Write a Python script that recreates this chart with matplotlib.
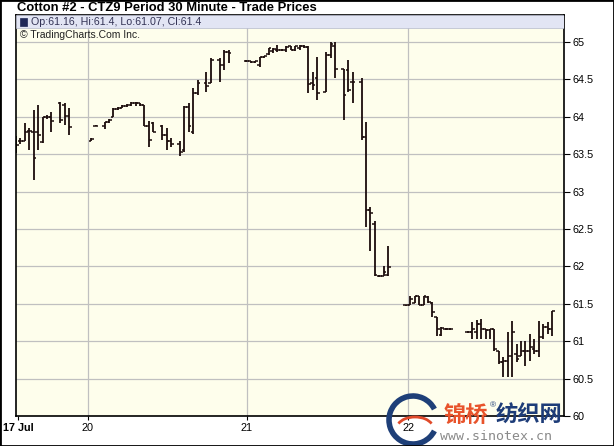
import matplotlib
matplotlib.use('Agg')
import matplotlib.pyplot as plt
from matplotlib.patches import Rectangle, Arc
import numpy as np

W, H = 614, 446

# bar slots are 30 minute periods counted from the first bar of 17 Jul
slots = [0, 1, 2, 3, 4, 5, 6, 7, 8, 10, 11, 12,
         17, 18, 20, 21, 22, 23, 24, 25, 26, 27, 28, 29, 30, 31, 33, 34, 35, 37, 38, 39, 40, 41, 43, 44, 46, 47, 48,
         52, 53, 54, 55, 56, 57, 58, 59, 60, 61, 62, 63, 64, 65, 66, 67, 68, 70, 71, 72, 74, 75, 76, 78, 79, 80, 81, 82, 83, 84,
         88, 89, 90, 91, 92, 93, 94, 95, 96, 97, 98, 102, 103, 104, 105, 106, 107, 108, 109, 110, 111, 112, 113, 114, 115,
         116, 117, 118, 119, 120, 121]

opens = [63.60, 63.67, 63.68, 63.81, 63.80, 63.79, 63.66, 63.99, 64.00, 64.19, 64.16, 64.01,
         63.68, 63.88, 63.88, 63.93, 64.00, 64.11, 64.12, 64.15, 64.16, 64.18, 64.18, 64.16, 63.87, 63.92, 63.87, 63.76,
         63.67, 63.63, 63.56, 64.13, 63.79, 64.32, 64.45, 64.45, 64.76, 64.69, 64.87,
         64.75, 64.74, 64.73, 64.69, 64.80, 64.84, 64.88, 64.89, 64.89, 64.89, 64.95, 64.89, 64.92, 64.95, 64.93, 64.45,
         64.52, 64.33, 64.83, 64.95, 64.64, 64.63, 64.47, 64.47, 63.73, 62.76, 62.56, 61.87, 61.87, 61.89,
         61.48, 61.48, 61.51, 61.60, 61.48, 61.59, 61.51, 61.32, 61.08, 61.16, 61.16, 61.12, 61.12, 61.12, 61.23, 61.16,
         61.15, 61.16, 60.87, 60.72, 60.73, 60.80, 60.83, 60.80, 60.87, 60.87, 60.89, 60.87, 61.05, 61.19, 61.16]

highs = [63.74, 63.71, 63.91, 63.85, 64.09, 64.16, 64.00, 64.02, 64.07, 64.20, 64.18, 64.12,
         63.71, 63.89, 63.93, 63.97, 64.12, 64.13, 64.16, 64.17, 64.20, 64.20, 64.19, 64.16, 63.94, 63.93, 63.89, 63.85,
         63.72, 63.67, 64.14, 64.19, 64.39, 64.49, 64.60, 64.79, 64.79, 64.89, 64.89,
         64.76, 64.75, 64.75, 64.80, 64.81, 64.92, 64.92, 64.96, 64.91, 64.94, 64.95, 64.95, 64.96, 64.96, 64.95, 64.60,
         64.80, 64.87, 65.00, 65.00, 64.64, 64.76, 64.60, 64.52, 63.93, 62.79, 62.60, 61.88, 62.00, 62.27,
         61.49, 61.60, 61.61, 61.61, 61.61, 61.61, 61.52, 61.32, 61.19, 61.17, 61.17, 61.13, 61.25, 61.28, 61.29, 61.16,
         61.16, 61.16, 60.87, 60.79, 61.12, 61.27, 60.96, 61.00, 61.00, 61.09, 61.03, 61.27, 61.23, 61.25, 61.40]

lows = [63.52, 63.64, 63.67, 63.56, 63.16, 63.56, 63.65, 63.97, 63.79, 63.91, 63.89, 63.76,
        63.68, 63.87, 63.83, 63.92, 64.00, 64.09, 64.12, 64.13, 64.15, 64.15, 64.15, 63.87, 63.60, 63.79, 63.69, 63.56,
        63.60, 63.47, 63.53, 63.80, 63.77, 64.29, 64.33, 64.45, 64.47, 64.63, 64.72,
        64.73, 64.72, 64.72, 64.67, 64.79, 64.82, 64.85, 64.87, 64.88, 64.87, 64.89, 64.88, 64.89, 64.92, 64.32, 64.36,
        64.23, 64.33, 64.79, 64.52, 63.96, 64.33, 64.19, 63.69, 62.52, 62.20, 61.87, 61.86, 61.87, 61.87,
        61.47, 61.48, 61.51, 61.48, 61.48, 61.51, 61.32, 61.07, 61.07, 61.15, 61.15, 61.11, 61.03, 61.03, 61.03, 61.03,
        61.03, 60.87, 60.69, 60.52, 60.52, 60.52, 60.72, 60.80, 60.67, 60.73, 60.83, 60.79, 61.03, 61.09, 61.07]

closes = [63.62, 63.68, 63.79, 63.81, 63.45, 63.75, 64.00, 63.99, 63.94, 63.95, 64.01, 63.86,
          63.70, 63.88, 63.93, 63.96, 64.11, 64.12, 64.15, 64.16, 64.18, 64.18, 64.16, 63.87, 63.69, 63.80, 63.76, 63.67,
          63.63, 63.53, 64.13, 63.87, 64.32, 64.45, 64.41, 64.76, 64.69, 64.87, 64.85,
          64.75, 64.73, 64.74, 64.80, 64.81, 64.92, 64.91, 64.89, 64.89, 64.93, 64.89, 64.95, 64.95, 64.93, 64.44, 64.43,
          64.32, 64.83, 64.97, 64.64, 64.29, 64.36, 64.47, 63.73, 62.76, 62.72, 61.89, 61.87, 61.93, 61.99,
          61.48, 61.56, 61.60, 61.48, 61.61, 61.52, 61.39, 61.16, 61.17, 61.16, 61.16, 61.12, 61.16, 61.23, 61.16, 61.15,
          61.16, 60.89, 60.72, 60.73, 60.80, 61.12, 60.76, 60.87, 60.87, 60.92, 60.87, 61.05, 61.19, 61.16, 61.40]

day_ticks = [0.45, 16.25, 52.1, 88.5]
day_labels = ['17 Jul', '20', '21', '22']
y_ticks = [60, 60.5, 61, 61.5, 62, 62.5, 63, 63.5, 64, 64.5, 65]
y_labels = ['60', '60.5', '61', '61.5', '62', '62.5', '63', '63.5', '64', '64.5', '65']

title = 'Cotton #2 - CTZ9 Period 30 Minute - Trade Prices'
last_bar = 'Op:61.16, Hi:61.4, Lo:61.07, Cl:61.4'
credit = '\u00a9 TradingCharts.Com Inc.'

plt.rcParams['font.family'] = ['Liberation Sans', 'DejaVu Sans']

fig = plt.figure(figsize=(W / 100, H / 100), dpi=100)
fig.patch.set_facecolor('white')
ax = fig.add_axes([16 / W, 30 / H, 548 / W, 401 / H])
ax.set_facecolor('#fefeec')
ax.set_xlim(0, 123.7)
ax.set_ylim(60, 65.36)

# grid
ax.set_yticks(y_ticks)
ax.set_yticklabels(y_labels)
ax.yaxis.grid(True, color='#c0c0c0', lw=0.9, zorder=0)
ax.set_axisbelow(True)
for d in day_ticks[1:]:
    ax.axvline(d, color='#c0c0c0', lw=0.9, zorder=0)

# OHLC bars
x = np.array(slots, dtype=float)
tw = 0.6
bar_col = '#1c0c0c'
ax.vlines(x, lows, highs, color=bar_col, lw=1.3, zorder=2)
ax.hlines(opens, x - tw, x, color=bar_col, lw=1.1, zorder=2)
ax.hlines(closes, x, x + tw, color=bar_col, lw=1.1, zorder=2)

# axes look
ax.yaxis.tick_right()
ax.tick_params(axis='y', length=4, width=0.8, pad=2, labelsize=7.8, colors='black')
ax.set_xticks(day_ticks)
ax.set_xticklabels(day_labels)
ax.tick_params(axis='x', length=3, width=0.8, pad=2, labelsize=7.8)
ax.get_xticklabels()[0].set_fontweight('bold')
for s in ax.spines.values():
    s.set_color('black')
    s.set_linewidth(1.2)

# legend band inside the plot
ax.add_patch(Rectangle((0, 1 - 13 / 401), 1, 13 / 401, transform=ax.transAxes,
                       facecolor='#e2e5f4', edgecolor='#b5b9cc', lw=0.5, zorder=4))
ax.add_patch(Rectangle((4 / 548, 1 - 10.5 / 401), 7 / 548, 7 / 401, transform=ax.transAxes,
                       facecolor='#1f2858', edgecolor='#1f2858', lw=0.5, zorder=5))
ax.text(15 / 548, 1 - 7 / 401, last_bar, transform=ax.transAxes, va='center', ha='left',
        fontsize=7.7, color='#333355', zorder=5)
ax.text(4 / 548, 1 - 20 / 401, credit, transform=ax.transAxes, va='center', ha='left',
        fontsize=7.5, color='#222222', zorder=5)

fig.text(17 / W, 1 - 8 / H, title, fontsize=9.4, fontweight='bold', va='center', ha='left')

# watermark
fig.add_artist(Arc((413 / W, 1 - 420 / H), 48 / W, 48 / H, theta1=35, theta2=325,
                   color='#1e3f78', lw=4.0, transform=fig.transFigure))
fig.add_artist(Arc((415 / W, 1 - 428 / H), 36 / W, 22 / H, theta1=20, theta2=160,
                   color='#e04a2a', lw=2.0, transform=fig.transFigure))
cjk = ['Noto Sans CJK SC', 'DejaVu Sans']
fig.text(444 / W, 1 - 415 / H, '锦桥', family=cjk, fontsize=16, fontweight='bold',
         color='#e8532b', va='center', ha='left')
fig.text(490 / W, 1 - 406 / H, '\u00ae', fontsize=6, color='#1d3c78', va='center', ha='left')
fig.text(496 / W, 1 - 415 / H, '纺织网', family=cjk, fontsize=16, fontweight='bold',
         color='#1d3c78', va='center', ha='left')
fig.text(440 / W, 1 - 436 / H, 'www.sinotex.cn', family='DejaVu Sans Mono', fontsize=9.5,
         color='#8a8a8a', va='center', ha='left')

fig.add_artist(Rectangle((0, 0), 1, 1, transform=fig.transFigure, fill=False,
                         edgecolor='black', lw=2))

fig.savefig('out.png', dpi=100)
